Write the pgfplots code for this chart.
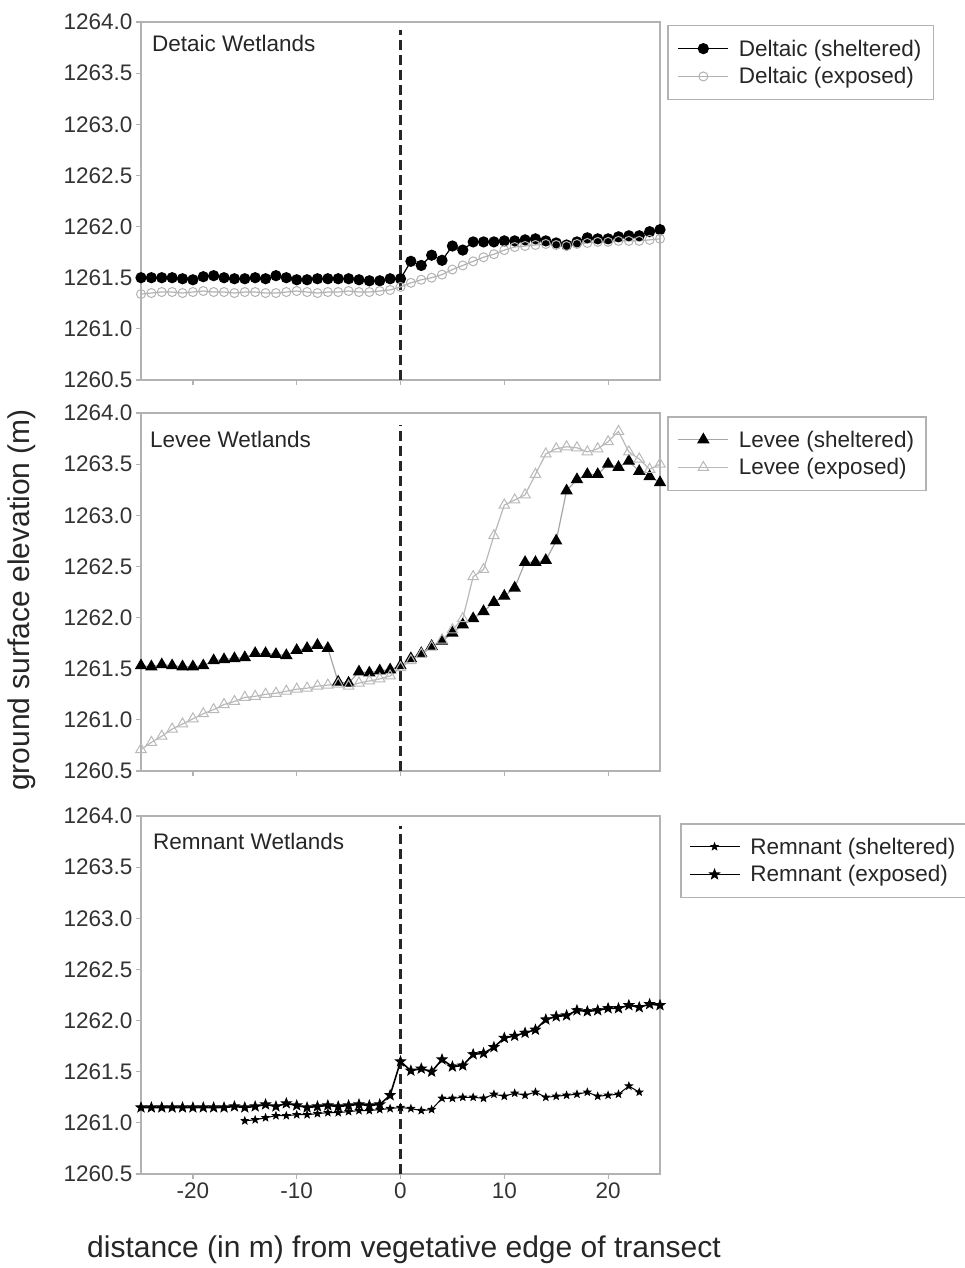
\documentclass[border=0pt]{standalone}
\usepackage{fontspec}
\setmainfont{Liberation Sans}
\usepackage{pgfplots}
\pgfplotsset{compat=1.18}
\pgfdeclareplotmark{fstar}{%
  \pgfpathmoveto{\pgfpointpolar{90}{\pgfplotmarksize}}%
  \pgfpathlineto{\pgfpointpolar{126}{0.42\pgfplotmarksize}}%
  \pgfpathlineto{\pgfpointpolar{162}{\pgfplotmarksize}}%
  \pgfpathlineto{\pgfpointpolar{198}{0.42\pgfplotmarksize}}%
  \pgfpathlineto{\pgfpointpolar{234}{\pgfplotmarksize}}%
  \pgfpathlineto{\pgfpointpolar{270}{0.42\pgfplotmarksize}}%
  \pgfpathlineto{\pgfpointpolar{306}{\pgfplotmarksize}}%
  \pgfpathlineto{\pgfpointpolar{342}{0.42\pgfplotmarksize}}%
  \pgfpathlineto{\pgfpointpolar{18}{\pgfplotmarksize}}%
  \pgfpathlineto{\pgfpointpolar{54}{0.42\pgfplotmarksize}}%
  \pgfpathclose\pgfusepathqfillstroke}
\pgfplotsset{panel/.style={
  scale only axis, width=519pt, height=358pt,
  xmin=-25, xmax=25, ymin=1260.5, ymax=1264,
  xtick={-20,-10,0,10,20}, ytick={1260.5,1261,1261.5,1262,1262.5,1263,1263.5,1264},
  tick align=outside, tick pos=left, major tick length=5pt,
  axis line style={draw=gray!60, line width=1.5pt},
  every tick/.style={gray!60, line width=1.2pt},
  tick label style={font=\fontsize{22.5}{25}\selectfont, text=black!80},
  /pgf/number format/assume math mode=true,
  yticklabel style={/pgf/number format/fixed, /pgf/number format/fixed zerofill, /pgf/number format/precision=1, /pgf/number format/1000 sep={}},
  clip=false,
  legend style={at={(1,1)}, anchor=north west, xshift=7pt, yshift=-3pt, draw=gray!60, line width=1.5pt,
    font=\fontsize{22.5}{25}\selectfont, text=black!85, inner xsep=10pt, inner ysep=12pt, row sep=6pt,
    nodes={inner sep=2pt}, cells={anchor=west},
    /tikz/every odd column/.append style={column sep=8pt}},
  legend image code/.code={\draw[mark repeat=2,mark phase=2,##1] plot coordinates {(0pt,0pt) (25pt,0pt) (50pt,0pt)};},
}}
\begin{document}
\begin{tikzpicture}
% ---------------- Deltaic ----------------
\begin{axis}[panel, at={(141pt,-22pt)}, anchor=north west, xticklabels={}]
\addplot[black!85, line width=2.2pt, dash pattern=on 10pt off 5pt, forget plot] coordinates {(0,1260.5) (0,1263.92)};
\addplot[black, line width=1.2pt, mark=*, mark size=5pt, mark options={fill=black}] coordinates {
(-25,1261.50) (-24,1261.50) (-23,1261.50) (-22,1261.50) (-21,1261.49) (-20,1261.48) (-19,1261.51) (-18,1261.52) (-17,1261.50) (-16,1261.49) (-15,1261.49) (-14,1261.50) (-13,1261.49) (-12,1261.52) (-11,1261.50) (-10,1261.48) (-9,1261.48) (-8,1261.49) (-7,1261.49) (-6,1261.49) (-5,1261.49) (-4,1261.48) (-3,1261.47) (-2,1261.47) (-1,1261.49) (0,1261.49)
(1,1261.66) (2,1261.62) (3,1261.72) (4,1261.67) (5,1261.81) (6,1261.77) (7,1261.85) (8,1261.85) (9,1261.85) (10,1261.86) (11,1261.86) (12,1261.87) (13,1261.88) (14,1261.86) (15,1261.84) (16,1261.82) (17,1261.85) (18,1261.89) (19,1261.88) (20,1261.88) (21,1261.90) (22,1261.91) (23,1261.91) (24,1261.95) (25,1261.97)};
\addlegendentry{Deltaic (sheltered)}
\addplot[gray!60, line width=1.2pt, mark=o, mark size=4.5pt, mark options={fill=white, line width=1pt}] coordinates {
(-25,1261.34) (-24,1261.35) (-23,1261.36) (-22,1261.36) (-21,1261.35) (-20,1261.36) (-19,1261.37) (-18,1261.36) (-17,1261.36) (-16,1261.35) (-15,1261.36) (-14,1261.36) (-13,1261.35) (-12,1261.35) (-11,1261.36) (-10,1261.37) (-9,1261.36) (-8,1261.35) (-7,1261.36) (-6,1261.36) (-5,1261.37) (-4,1261.36) (-3,1261.36) (-2,1261.37) (-1,1261.38) (0,1261.41)
(1,1261.45) (2,1261.48) (3,1261.50) (4,1261.53) (5,1261.58) (6,1261.62) (7,1261.66) (8,1261.70) (9,1261.73) (10,1261.77) (11,1261.80) (12,1261.81) (13,1261.82) (14,1261.83) (15,1261.82) (16,1261.81) (17,1261.83) (18,1261.84) (19,1261.85) (20,1261.85) (21,1261.86) (22,1261.86) (23,1261.86) (24,1261.87) (25,1261.88)};
\addlegendentry{Deltaic (exposed)}
\node[anchor=west, inner sep=0pt, font=\fontsize{22.5}{25}\selectfont, text=black!85] at (rel axis cs:0.021,0.939) {Detaic Wetlands};
\end{axis}
% ---------------- Levee ----------------
\begin{axis}[panel, at={(141pt,-413pt)}, anchor=north west, xticklabels={}]
\addplot[black!85, line width=2.2pt, dash pattern=on 10pt off 5pt, forget plot] coordinates {(0,1260.5) (0,1263.88)};
\addplot[gray!70, line width=1.2pt, mark=triangle*, mark size=6pt, mark options={draw=black, fill=black}] coordinates {
(-25,1261.53) (-24,1261.52) (-23,1261.54) (-22,1261.53) (-21,1261.52) (-20,1261.52) (-19,1261.53) (-18,1261.58) (-17,1261.59) (-16,1261.60) (-15,1261.61) (-14,1261.65) (-13,1261.65) (-12,1261.64) (-11,1261.63) (-10,1261.68) (-9,1261.70) (-8,1261.73) (-7,1261.70) (-6,1261.37) (-5,1261.36) (-4,1261.47) (-3,1261.46) (-2,1261.48) (-1,1261.49) (0,1261.53)
(1,1261.60) (2,1261.65) (3,1261.72) (4,1261.77) (5,1261.85) (6,1261.93) (7,1261.99) (8,1262.06) (9,1262.15) (10,1262.21) (11,1262.29) (12,1262.54) (13,1262.54) (14,1262.56) (15,1262.75) (16,1263.24) (17,1263.35) (18,1263.40) (19,1263.40) (20,1263.50) (21,1263.47) (22,1263.53) (23,1263.43) (24,1263.38) (25,1263.32)};
\addlegendentry{Levee (sheltered)}
\addplot[gray!55, line width=1.2pt, mark=triangle, mark size=6pt, mark options={gray!55, fill=white, line width=1pt}] coordinates {
(-25,1260.71) (-24,1260.78) (-23,1260.84) (-22,1260.91) (-21,1260.96) (-20,1261.01) (-19,1261.06) (-18,1261.10) (-17,1261.15) (-16,1261.18) (-15,1261.22) (-14,1261.23) (-13,1261.25) (-12,1261.26) (-11,1261.28) (-10,1261.30) (-9,1261.31) (-8,1261.33) (-7,1261.34) (-6,1261.35) (-5,1261.33) (-4,1261.36) (-3,1261.38) (-2,1261.40) (-1,1261.43) (0,1261.51)
(1,1261.58) (2,1261.64) (3,1261.71) (4,1261.78) (5,1261.88) (6,1261.99) (7,1262.40) (8,1262.47) (9,1262.80) (10,1263.10) (11,1263.15) (12,1263.20) (13,1263.40) (14,1263.60) (15,1263.65) (16,1263.67) (17,1263.66) (18,1263.62) (19,1263.65) (20,1263.72) (21,1263.82) (22,1263.62) (23,1263.55) (24,1263.45) (25,1263.50)};
\addlegendentry{Levee (exposed)}
\node[anchor=west, inner sep=0pt, font=\fontsize{22.5}{25}\selectfont, text=black!85] at (rel axis cs:0.017,0.925) {Levee Wetlands};
\end{axis}
% ---------------- Remnant ----------------
\begin{axis}[panel, at={(141pt,-816pt)}, anchor=north west,
  legend style={xshift=13pt, yshift=-4pt, inner xsep=8pt}]
\addplot[black!85, line width=2.2pt, dash pattern=on 10pt off 5pt, forget plot] coordinates {(0,1260.5) (0,1263.9)};
\addplot[black, line width=1pt, mark=fstar, mark size=3.5pt, mark options={fill=black}] coordinates {
(-15,1261.02) (-14,1261.03) (-13,1261.05) (-12,1261.07) (-11,1261.07) (-10,1261.08) (-9,1261.08) (-8,1261.09) (-7,1261.10) (-6,1261.10) (-5,1261.11) (-4,1261.12) (-3,1261.12) (-2,1261.13) (-1,1261.14) (0,1261.15)
(1,1261.14) (2,1261.12) (3,1261.13) (4,1261.24) (5,1261.24) (6,1261.25) (7,1261.25) (8,1261.24) (9,1261.28) (10,1261.26) (11,1261.29) (12,1261.27) (13,1261.30) (14,1261.25) (15,1261.26) (16,1261.27) (17,1261.28) (18,1261.30) (19,1261.26) (20,1261.27) (21,1261.28) (22,1261.36) (23,1261.30)};
\addlegendentry{Remnant (sheltered)}
\addplot[black, line width=1.6pt, mark=fstar, mark size=5pt, mark options={fill=black, line width=1pt}] coordinates {
(-25,1261.15) (-24,1261.15) (-23,1261.15) (-22,1261.15) (-21,1261.15) (-20,1261.15) (-19,1261.15) (-18,1261.15) (-17,1261.15) (-16,1261.16) (-15,1261.15) (-14,1261.16) (-13,1261.18) (-12,1261.16) (-11,1261.19) (-10,1261.17) (-9,1261.15) (-8,1261.16) (-7,1261.17) (-6,1261.16) (-5,1261.17) (-4,1261.18) (-3,1261.17) (-2,1261.18) (-1,1261.27) (0,1261.60)
(1,1261.51) (2,1261.53) (3,1261.50) (4,1261.62) (5,1261.55) (6,1261.56) (7,1261.67) (8,1261.68) (9,1261.74) (10,1261.83) (11,1261.85) (12,1261.88) (13,1261.91) (14,1262.01) (15,1262.04) (16,1262.05) (17,1262.10) (18,1262.09) (19,1262.10) (20,1262.12) (21,1262.12) (22,1262.15) (23,1262.13) (24,1262.16) (25,1262.15)};
\addlegendentry{Remnant (exposed)}
\node[anchor=west, inner sep=0pt, font=\fontsize{22.5}{25}\selectfont, text=black!85] at (rel axis cs:0.023,0.93) {Remnant Wetlands};
\end{axis}
\node[rotate=90, font=\fontsize{30}{34}\selectfont, text=black!85] at (22pt,-600pt) {ground surface elevation (m)};
\node[font=\fontsize{30}{34}\selectfont, text=black!85] at (404pt,-1250pt) {distance (in m) from vegetative edge of transect};
\pgfresetboundingbox
\path[use as bounding box] (0pt,0pt) rectangle (964pt,-1268pt);
\end{tikzpicture}
\end{document}
